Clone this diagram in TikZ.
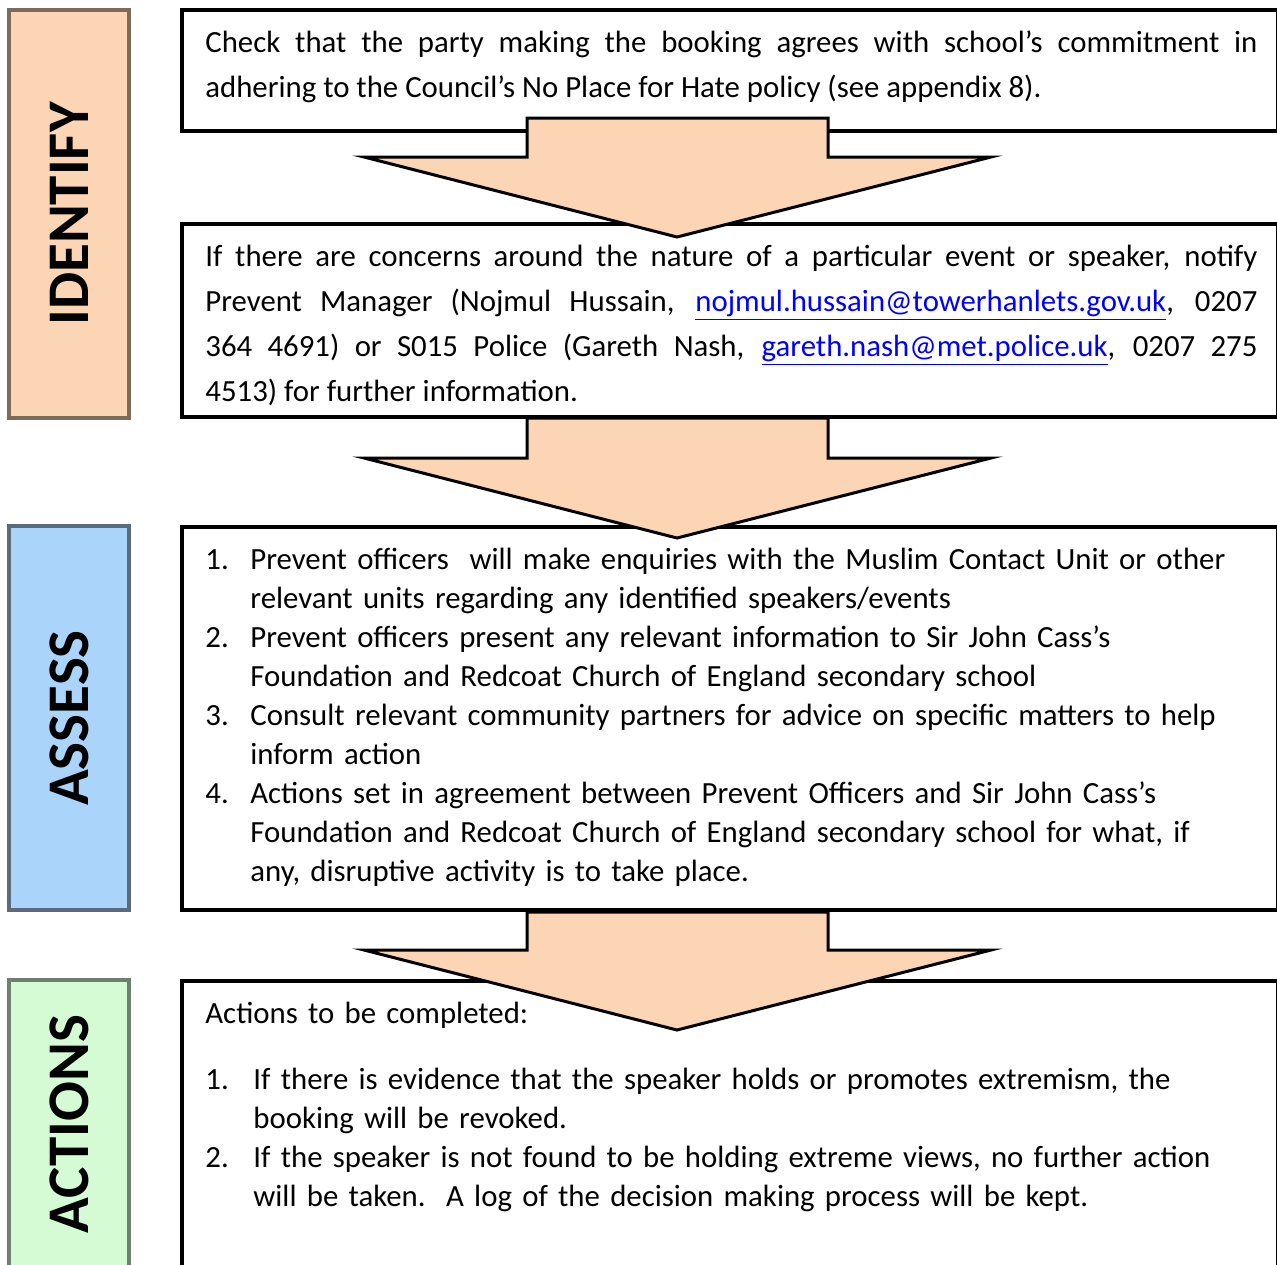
\documentclass[tikz,border=0pt]{standalone}
\usepackage{fontspec}
\setmainfont{Carlito}
\usepackage{xcolor}

\begin{document}
\begin{tikzpicture}[x=0.5pt,y=-0.5pt,
  frame/.style={line width=1.6pt},
  stage/.style={line width=2pt},
  stagetext/.style={rotate=90,inner sep=0pt,font=\fontsize{29.5}{30}\selectfont\bfseries},
  bigarrow/.style={draw=black,line width=1.5pt,fill=peach,miter limit=20},
  para/.style={anchor=base west,inner sep=0pt,text width=526pt,align=justify,font=\fontsize{15.4}{22.5}\selectfont},
  numlist/.style={anchor=base west,inner sep=0pt,text width=530pt,align=left,font=\fontsize{15.4}{19.5}\selectfont}]
% Define stage colours
\definecolor{peach}{RGB}{252,213,180}
\definecolor{identifyline}{RGB}{125,108,92}
\definecolor{assessfill}{RGB}{171,212,251}
\definecolor{assessline}{RGB}{92,106,126}
\definecolor{actionsfill}{RGB}{213,251,213}
\definecolor{actionsline}{RGB}{110,128,110}
\definecolor{linkblue}{RGB}{0,0,255}

\useasboundingbox (0,0) rectangle (1277,1264);

% Draw stage labels
\draw[stage,draw=identifyline,fill=peach] (9,10) rectangle (129,418);
\node[stagetext] (identify) at (69,214) {IDENTIFY};
\draw[stage,draw=assessline,fill=assessfill] (9,526) rectangle (129,910);
\node[stagetext] (assess) at (69,718) {ASSESS};
\draw[stage,draw=actionsline,fill=actionsfill] (9,980) rectangle (129,1290);
\node[stagetext] (actions) at (69,1124) {ACTIONS};

% Draw text frames
\draw[frame] (182,10) rectangle (1278,131);
\draw[frame] (182,224) rectangle (1278,417);
\draw[frame] (182,527) rectangle (1278,910);
\draw[frame] (182,981) rectangle (1278,1290);

% Add frame texts
\node[para] (check) at (205,52) {Check that the party making the booking agrees with school's commitment in\linebreak
adhering to the Council's No Place for Hate policy (see appendix 8).};

\node[para] (notify) at (205,266) {If there are concerns around the nature of a particular event or speaker, notify\linebreak
Prevent Manager (Nojmul Hussain, \textcolor{linkblue}{\underline{nojmul.hussain@towerhanlets.gov.uk}}, 0207\linebreak
364 4691) or S015 Police (Gareth Nash, \textcolor{linkblue}{\underline{gareth.nash@met.police.uk}}, 0207 275\linebreak
4513) for further information.};

\node[numlist] (enquiries) at (205,569) {\makebox[22.5pt][l]{1.}Prevent officers\ \ will make enquiries with the Muslim Contact Unit or other\\
\hspace*{22.5pt}relevant units regarding any identified speakers/events\\
\makebox[22.5pt][l]{2.}Prevent officers present any relevant information to Sir John Cass's\\
\hspace*{22.5pt}Foundation and Redcoat Church of England secondary school\\
\makebox[22.5pt][l]{3.}Consult relevant community partners for advice on specific matters to help\\
\hspace*{22.5pt}inform action\\
\makebox[22.5pt][l]{4.}Actions set in agreement between Prevent Officers and Sir John Cass's\\
\hspace*{22.5pt}Foundation and Redcoat Church of England secondary school for what, if\\
\hspace*{22.5pt}any, disruptive activity is to take place.};

\node[numlist] (complete) at (205,1023) {Actions to be completed:\\[13.5pt]
\makebox[24pt][l]{1.}If there is evidence that the speaker holds or promotes extremism, the\\
\hspace*{24pt}booking will be revoked.\\
\makebox[24pt][l]{2.}If the speaker is not found to be holding extreme views, no further action\\
\hspace*{24pt}will be taken.\ \ A log of the decision making process will be kept.};

% Draw arrows between frames
\draw[bigarrow] (527,118) -- (828,118) -- (828,157) -- (991,157) -- (677,237)
  -- (364,157) -- (527,157) -- cycle;
\draw[bigarrow] (527,418) -- (828,418) -- (828,458) -- (991,458) -- (677,538)
  -- (364,458) -- (527,458) -- cycle;
\draw[bigarrow] (527,912) -- (828,912) -- (828,950) -- (991,950) -- (677,1030)
  -- (364,950) -- (527,950) -- cycle;
\end{tikzpicture}
\end{document}
